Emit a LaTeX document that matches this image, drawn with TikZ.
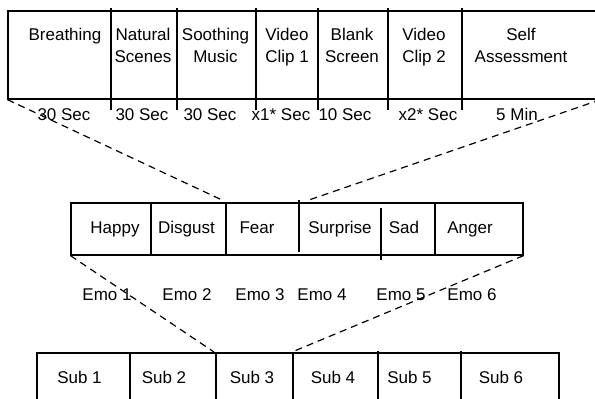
\documentclass[tikz,border=0pt]{standalone}
\usepackage{fontspec}
\setmainfont{Liberation Sans}
\usepackage{tikz}

\begin{document}
\begin{tikzpicture}[x=1pt,y=-1pt,line width=1.2pt,
  txt/.style={inner sep=0pt,font=\fontsize{17}{22}\selectfont},
  row/.style={draw,rectangle,inner sep=0pt},
  link/.style={dash pattern=on 7pt off 5pt}]
\useasboundingbox (0,0) rectangle (595,399);
\clip (0,0) rectangle (595,399);

% session steps
\node [row,minimum width=592pt,minimum height=88pt] (steps) at(304,55){};
\draw (111,8) -- (111,110);
\draw (177,8) -- (177,110);
\draw (256,8) -- (256,110);
\draw (318,8) -- (318,110);
\draw (388,8) -- (388,110);
\draw (462,8) -- (462,110);

\node [txt,align=center,anchor=north] (breath) at(65,28){Breathing};
\node [txt,align=center,anchor=north] (nature) at(143,28){Natural\\Scenes};
\node [txt,align=center,anchor=north] (music) at(215.5,28){Soothing\\Music};
\node [txt,align=center,anchor=north] (clipa) at(287,28){Video\\Clip 1};
\node [txt,align=center,anchor=north] (blank) at(352,28){Blank\\Screen};
\node [txt,align=center,anchor=north] (clipb) at(424,28){Video\\Clip 2};
\node [txt,align=center,anchor=north] (self) at(521,28){Self\\Assessment};

\node [txt,anchor=base] (breatht) at(64,120){30 Sec};
\node [txt,anchor=base] (naturet) at(142,120){30 Sec};
\node [txt,anchor=base] (musict) at(210,120){30 Sec};
\node [txt,anchor=base] (clipat) at(281,120){x1* Sec};
\node [txt,anchor=base] (blankt) at(345,120){10 Sec};
\node [txt,anchor=base] (clipbt) at(428,120){x2* Sec};
\node [txt,anchor=base] (selft) at(517,120){5 Min};

% emotions
\node [row,minimum width=452pt,minimum height=52pt] (emos) at(297,229){};
\draw (151,203) -- (151,255);
\draw (226,203) -- (226,255);
\draw (299,200) -- (299,252);
\draw (381,208) -- (381,260);
\draw (435,203) -- (435,255);

\node [txt,anchor=base] (happy) at(115,233){Happy};
\node [txt,anchor=base] (disgust) at(186.5,233){Disgust};
\node [txt,anchor=base] (fear) at(257,233){Fear};
\node [txt,anchor=base] (surprise) at(340,233){Surprise};
\node [txt,anchor=base] (sad) at(404,233){Sad};
\node [txt,anchor=base] (anger) at(470,233){Anger};

\node [txt,anchor=base] (emoa) at(107,300){Emo 1};
\node [txt,anchor=base] (emob) at(187,300){Emo 2};
\node [txt,anchor=base] (emoc) at(260,300){Emo 3};
\node [txt,anchor=base] (emod) at(322,300){Emo 4};
\node [txt,anchor=base] (emoe) at(401,300){Emo 5};
\node [txt,anchor=base] (emof) at(472,300){Emo 6};

% subjects
\node [row,minimum width=522pt,minimum height=48pt] (subs) at(298,377){};
\draw (130,353) -- (130,401);
\draw (216,353) -- (216,401);
\draw (293,353) -- (293,401);
\draw (378,351) -- (378,401);
\draw (461,351) -- (461,401);

\node [txt,anchor=base] (suba) at(79.5,383){Sub 1};
\node [txt,anchor=base] (subb) at(164,383){Sub 2};
\node [txt,anchor=base] (subc) at(252,383){Sub 3};
\node [txt,anchor=base] (subd) at(333,383){Sub 4};
\node [txt,anchor=base] (sube) at(409.5,383){Sub 5};
\node [txt,anchor=base] (subf) at(501,383){Sub 6};

\coordinate (fearL) at(222,200);
\coordinate (surpL) at(306,201);
\coordinate (subcL) at(214,352);
\coordinate (subdL) at(292,352);

\draw[link] (steps.south west) -- (fearL);
\draw[link] (steps.south east) -- (surpL);
\draw[link] (emos.south west) -- (subcL);
\draw[link] (emos.south east) -- (subdL);

\end{tikzpicture}
\end{document}
